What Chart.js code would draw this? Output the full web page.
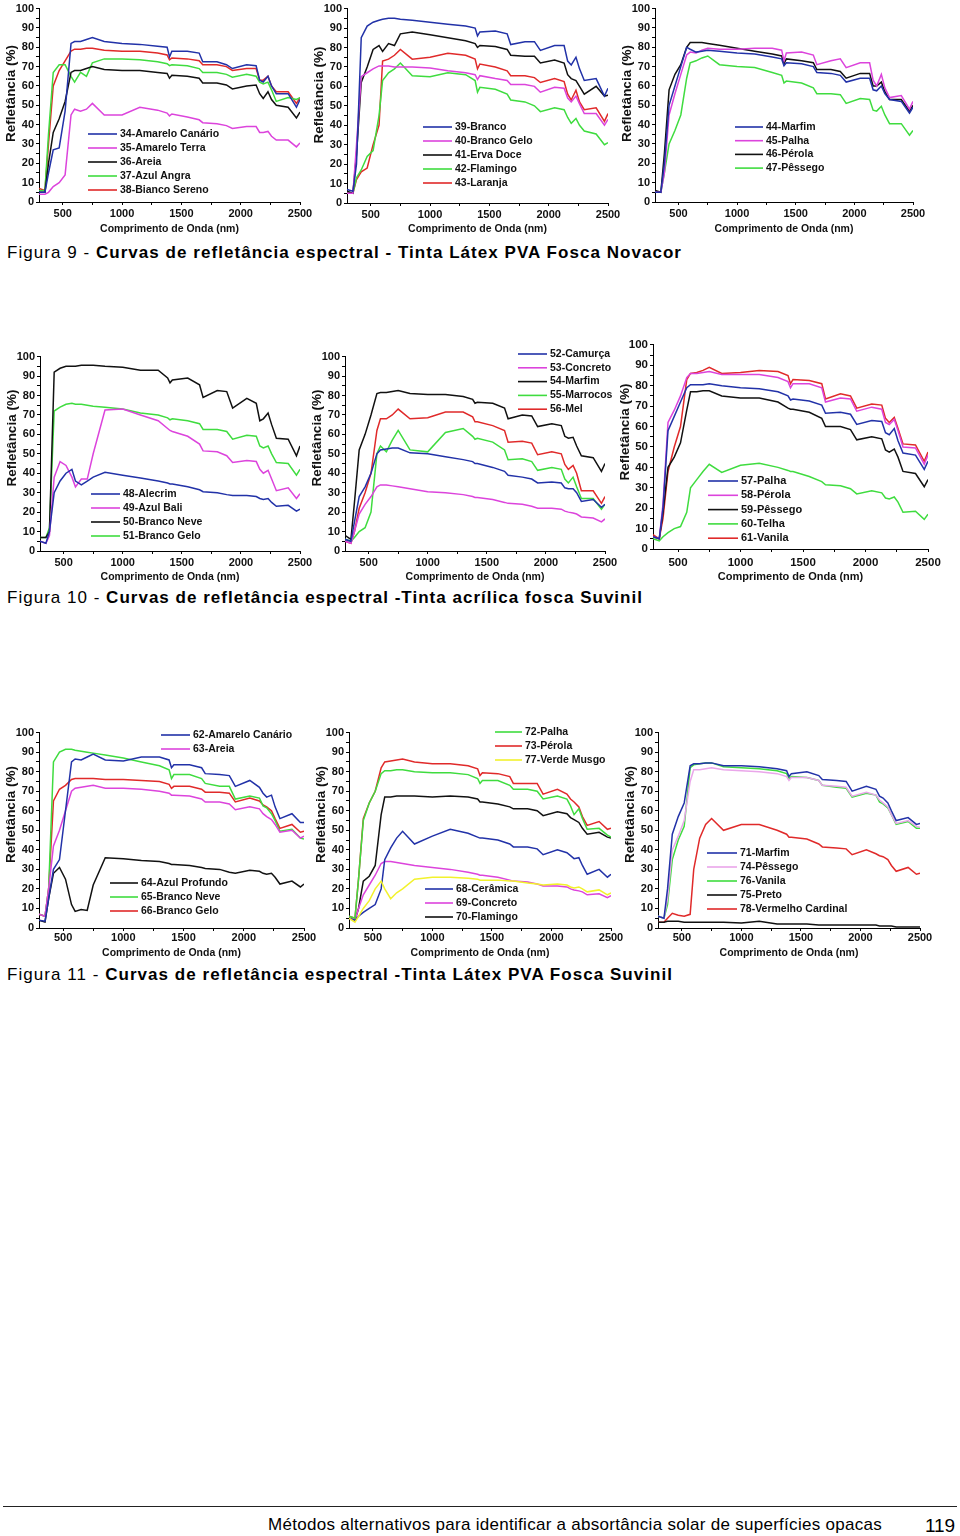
<!DOCTYPE html>
<html lang="pt">
<head>
<meta charset="UTF-8">
<title>Curvas de refletância espectral</title>
<script src="https://cdn.jsdelivr.net/npm/chart.js"></script>
<style>
  body { margin: 0; background: #fff; }
  #pagina {
    position: relative;
    width: 960px;
    height: 1536px;
    overflow: hidden;
    font-family: 'Liberation Sans', Arial, sans-serif;
    color: #000;
  }
  .legenda { position: absolute; left: 7px; font-size: 17px; line-height: 20px; white-space: nowrap; }
  .rodape { position: absolute; white-space: nowrap; line-height: 20px; }
  .linha { position: absolute; left: 3px; top: 1506px; width: 954px; height: 1px; background: #222; }
</style>
</head>
<body>
<div id="pagina">
  <div class="legenda" style="top:243px" data-w="675">Figura 9 - <b>Curvas de refletância espectral - Tinta Látex PVA Fosca Novacor</b></div>
  <div class="legenda" style="top:588px" data-w="636">Figura 10 - <b>Curvas de refletância espectral -Tinta acrílica fosca Suvinil</b></div>
  <div class="legenda" style="top:965px" data-w="666">Figura 11 - <b>Curvas de refletância espectral -Tinta Látex PVA Fosca Suvinil</b></div>
  <div class="linha"></div>
  <div class="rodape" style="left:268px;top:1515px;font-size:17px;font-family:'Liberation Sans Narrow','Liberation Sans',Arial,sans-serif" data-w="614">Métodos alternativos para identificar a absortância solar de superfícies opacas</div>
  <div class="rodape" style="left:925px;top:1516px;font-size:19px" data-w="30">119</div>
</div>

<script>
  // comprimentos de onda (nm) usados em todas as curvas
  const wavelengths = [300, 350, 380, 420, 470, 520, 570, 600, 650, 700, 750, 850, 1000, 1150, 1300, 1380, 1400, 1420, 1550, 1650,
                       1680, 1800, 1880, 1930, 2050, 2130, 2160, 2190, 2230, 2260, 2300, 2400, 2470, 2500];
  const xTickLabels = [500, 1000, 1500, 2000, 2500];
  const xTickMinor = [750, 1250, 1750, 2250];
  const yTickLabels = [0, 10, 20, 30, 40, 50, 60, 70, 80, 90, 100];

  // Figura 9 - Novacor
  const s34 = [5,5,15,27,28,47,82,83,83,84,85,83,82,81.5,80.5,80,75,78,78,77,72.5,72.5,71,69,71,70.5,63,62,65,60,56,56,49,53];
  const s35 = [4,4,5,8,10,14,45,48,47,48,51,45,45,49,47.5,46,44.5,45.5,44,42.5,41,40.5,39.5,38,39,39,36,36,36.5,34,32,32,28.5,30.5];
  const s36 = [5,5,20,36,43,52,67,68,68,69,70,68.5,68,68,67,66.5,64,65.5,65,64,61.5,61.5,60.5,58.5,60,60.5,56,53.5,57,53,50,49,43.5,46.5];
  const s37 = [6,6,35,67,71,71,65,62,67,65,72,74,74,73.5,72.5,71.5,70.5,71,70.5,69,67,67,66,64.5,66,65,62,61,62,58,52,54,53,54];
  const s38 = [7,6,30,60,68,73,78,79,79,79.5,79.5,78.5,78,78,77,76,73.5,74.5,74,73,71,71,70,68,69,69,63,63,65,60,57,57,51,54];
  const s39 = [7,6,20,85,91,93,94,94.5,95,95,94.5,94,93,92,91,90,86,88,88.5,87,81.5,83,83,78.5,81,81,73,71,75,69,63,64,55,59];
  const s40 = [5,5,30,65,67,69,70.5,70.5,70.5,70,70,70,69.5,68,67,66,63.5,65.5,64,63,61,61,60,57,59.5,59,54,52,55,51,46,46,40,43];
  const s41 = [6,5,25,62,70,79,81,78,82,81,87,88,86.5,85,83.5,82,80,81,80.5,79,76,75.5,75.5,72,73.5,72,66,64,63,60,56,60,55,55.5];
  const s42 = [5,5,13,17,24,27,45,63,67,69,72,65.5,65,67,66,63,57,59.5,58.5,56,53,52,50,47,49,48,44,41,43.5,40,37,35.5,30,31];
  const s43 = [5,5,12,16,18,30,40,73,74,76,79,74,75,77,76,74,69,71.5,70,68,65.5,65.5,64.5,62,64,62.5,56,53,58,52,48,49,42,46];
  const s44 = [5,5,20,50,60,70,80,79,77.5,78,78.5,78,77,76.5,75,74,70.5,72,71.5,70,67,66.5,65.5,62,64,64,58,57.5,60,56,53,52,46,49];
  const s45 = [5,5,15,45,56,66,76,77.5,77,78.5,79.5,79,79,79.5,79.5,78.5,73,77,77.5,76,71,73,74,69.5,72,72,63,60,66,59,54,55,48,52];
  const s46 = [6,5,25,58,66,71,80,82.5,82.5,82.5,82,81,79.5,78,76.5,75.5,71.5,74,73,72,68.5,68.5,67.5,64,66.5,66.5,60,60,62,57,53,53,47,50];
  const s47 = [5,5,15,30,37,45,64,72,73,74.5,75.5,71,70,69.5,67,65.5,61.5,62.5,61.5,59,56,56,55.5,51,53.5,53,47.5,47,49.5,45,40.5,40.5,34.5,37];

  // Figura 10 - Suvinil acrílica
  const s48 = [5,4,10,30,36,40,42,36,34,36,38,40.5,39,37.5,36,35,34.5,34.5,33,31.5,30.5,30,29,28.5,28.5,28,27,26.5,27,25,23,23.5,20.5,21.5];
  const s49 = [5,4,8,38,46,44,38,33,37,37,50,72.5,73,70,67,63,62,61.5,59,55,51.5,51,49,45.5,46.5,46,42,40,41.5,37,31,32.5,27,29.5];
  const s50 = [7,7,10,92,94,95,95,95,95.5,95.5,95.5,95,94.5,93,93,89,86.5,88,89,85.5,79,82.5,82,73.5,78.5,76,67,68,71,65,58,57.5,49,54];
  const s51 = [7,7,12,72,74,75.5,76,75.5,75.5,75,74.5,74,73,71,70,68.5,67.5,68,67,65.5,62.5,62.5,61.5,57.5,59.5,59,54,53,54,50,45.5,45,39,42];
  const s52 = [6,5,15,28,33,40,50,52,52.5,53,53,50.5,50,48.5,47,46,45,45,43,41,39,38,37,35,35.5,35,32.5,32,32,30,25.5,26.5,22.5,24];
  const s53 = [5,4,10,19,24,28,33,34,34,33.5,33,32,30.5,30,29,28,27.5,27.5,26.5,25,24.5,24,23,22,22,21.5,20.5,20,19.5,19,17.5,17,15,16.5];
  const s54 = [8,6,25,52,60,70,81,81.5,81.5,82,82.5,81,80.5,80.5,79.5,78,76,76.5,76,73.5,68,70,69.5,64,65.5,64.5,59,58,58.5,54,49,48,41,45];
  const s55 = [6,5,7,10,12,20,50,54,51,57,62,52,51,61,63,59,57.5,58,56,52,47,47.5,46,41.5,43,42,37,35,38,33,27,27,21.5,24];
  const s56 = [5,4,10,22,30,40,62,68,68,70,73,68,68.5,71.5,71.5,69,66.5,66.5,64.5,62,56,56.5,55.5,49.5,51,50,44.5,42,44,40,31,31,24.5,28];
  const s57 = [6,5,20,58,65,72,79,80.5,80.5,80.5,81,80,79,78.5,77,75,73,73.5,72.5,70.5,66.5,67,66,61,63,62.5,57,56,59,53,47,46,39,43];
  const s58 = [6,5,22,62,68,75,84,86,86,86.5,87,85.5,85.5,85.5,84,82,79,81,81,79,72,74,73.5,67.5,69.5,68.5,62,61,63.5,58,50,49.5,41.5,46];
  const s59 = [6,5,18,40,45,52,68,77,77,77.5,77.5,75,74,74,72,69,68.5,68.5,67,64,60,60,58.5,53.5,55,54,48.5,47.5,49,45,38,37,30.5,34];
  const s60 = [5,4,6,8,10,11,18,30,34,38,41.5,37.5,41,42,40,38.5,38,38,35.5,33,31.5,31,29.5,27,28.5,27.5,25,24.5,25.5,23,18,18.5,14.5,17];
  const s61 = [7,5,15,38,50,60,83,86,86.5,87.5,89,86,86.5,87.5,87,85,81,83,82.5,81,73.5,76,75,69,71,70.5,64,62,64.5,59,51.5,51,43,47.5];

  // Figura 11 - Suvinil látex
  const s62 = [4,3.5,15,30,35,60,85,86.5,86,87.5,89,86,85.5,87.5,87.5,86,82,83.5,83.5,82,79,78.5,78,72.5,75.5,72,69,67,68,62,56,58.5,54,54];
  const s63 = [7,6,20,42,50,60,70,71.5,72,72.5,73,71.5,71.5,71,70,69,68,68,67.5,66,64.5,64.5,63.5,60.5,62,61,58.5,57,55.5,53,49,50,46,47];
  const s64 = [4,3,15,28,31,25,12,8.5,9.5,9,22,36,35.5,34.5,34,33,32.5,32.5,32,31,30.5,30,28.5,28,29.5,29,28,27.5,28,26,22.5,24,21,22.5];
  const s65 = [7,6,20,85,90,91.5,91.5,91,90.5,90,89.5,88.5,87,85,83,81,76.5,78.5,78.5,76.5,74,72.5,72.5,66,67.5,66.5,62.5,61.5,58.5,55,49.5,50.5,46,45.5];
  const s66 = [7,6,20,65,71,73,76,76.5,76.5,76.5,76.5,76,76,75.5,75,73.5,71.5,72.5,72.5,71,69.5,69.5,69,64.5,66.5,65,63,62,60,56,51,53,49,49.5];
  const s72 = [6,5,25,55,64,70,79,80.5,80.5,81,81,80,79.5,79.5,78.5,76.5,74,75.5,75.5,73,71,71,70,66,67.5,66,62.5,58,61,56,50.5,51,47.5,46.5];
  const s73 = [6,5,25,56,64,70,82,85,85.5,86,86.5,85,84,84,83,81.5,78,79.5,79,77.5,74,74,74,68.5,71,68.5,66,64.5,62,57,52.5,54.5,50.5,51];
  const s77 = [5,3,6,10,14,20,24,20,15,18,20,25,26,26,25.5,25,24.5,24.5,24.5,24,24,23,22.5,22,22.5,22,21,20.5,21,20,18.5,19.5,17,18];
  const s68 = [5,4,6,8,10,12,20,35,41,46,49.5,43,47,50.5,48.5,46.5,46,46,45,43,41.5,41.5,40.5,37.5,40,38.5,37,35.5,36,32,27.5,30,26,27.5];
  const s69 = [5,4,10,17,22,27,33,34,34,33.5,33,32,31,30,28.5,27.5,27,27,26,24.5,24,23.5,22.5,21.5,21.5,21,20,19.5,19,18.5,17,17.5,15.5,16.5];
  const s70 = [5,4,10,24,26.5,32,58,67,67,67.5,67.5,67.5,67,67.5,67,66,64.5,64.5,63.5,62,61,61,60,57.5,59.5,58.5,56.5,55.5,54,51,48,49,46.5,46];
  const s71 = [6,5,20,48,57,64,83,84,84,84.5,84.5,83,83,82.5,81.5,80.5,77.5,79,80,78,76,75.5,75,70,72.5,71,67.5,66.5,64,60,55,56.5,53,53.5];
  const s74 = [6,5,15,40,47,55,75,81,81,81.5,82,81,80.5,80,79,77.5,75.5,77,77,75.5,73,72.5,72,67.5,69.5,68,65.5,64,62,58,53.5,55,52,51.5];
  const s76 = [6,5,12,35,45,52,82,83.5,84,84.5,84.5,82.5,82,81.5,80.5,79,76.5,77.5,77,75.5,73,72,71.5,67,69,68,64.5,63.5,61.5,58,53,54.5,51,51];
  const s75 = [3,3,3.5,3.5,3.5,3,3,3,3,3,3,3,2.5,3.5,2,2,2,2,2,1.5,1.5,1.5,1.5,1.5,1.5,1.5,1,1,1,1,0.5,0.5,0.5,0.5];
  const s78 = [3,3,5,7.5,6.5,6,7,30,46,53,56,50,53,53,50,48,46.5,46.5,45.5,43,41.5,41,40.5,37.5,40,38,37,36.5,35,32,29,31,27.5,28];

  const AZUL = '#2232a8', MAGENTA = '#dc44dc', PRETO = '#111111', VERDE = '#3fdc3f',
        VERMELHO = '#e02a2a', ROSA = '#eaa6ea', AMARELO = '#f2f22c';
  const FAMILIA = "'Liberation Sans', Arial, sans-serif";

  // legenda e título do eixo y desenhados dentro do canvas
  const legendaInterna = {
    id: 'legendaInterna',
    afterDatasetsDraw(chart, args, opts) {
      const ctx = chart.ctx;
      ctx.save();
      ctx.font = 'bold ' + opts.size + 'px ' + FAMILIA;
      ctx.textBaseline = 'middle';
      opts.grupos.forEach(g => {
        g.items.forEach((i, k) => {
          const ds = chart.data.datasets[i];
          const y = g.y + k * g.dy - opts.oy;
          const x = g.x - opts.ox;
          ctx.strokeStyle = ds.borderColor;
          ctx.lineWidth = 1.6;
          ctx.beginPath();
          ctx.moveTo(x, y);
          ctx.lineTo(x + g.len, y);
          ctx.stroke();
          ctx.fillStyle = '#111';
          ctx.fillText(ds.label, x + g.len + 3, y);
        });
      });
      // título vertical
      ctx.translate(opts.tx, opts.ty);
      ctx.rotate(-Math.PI / 2);
      ctx.textAlign = 'center';
      ctx.font = 'bold 13.5px ' + FAMILIA;
      ctx.fillStyle = '#111';
      ctx.fillText('Refletância (%)', 0, 0);
      ctx.restore();
    }
  };
  Chart.register(legendaInterna);

  const graficos = [
    { area: [39, 7, 300, 202], tickY: 11, titleY: 27, dY: -11,
      series: [['34-Amarelo Canário', s34, AZUL], ['35-Amarelo Terra', s35, MAGENTA], ['36-Areia', s36, PRETO], ['37-Azul Angra', s37, VERDE], ['38-Bianco Sereno', s38, VERMELHO]],
      legenda: [{ x: 88, y: 134, dy: 14, len: 29, items: [0, 1, 2, 3, 4] }] },
    { area: [347, 7, 608, 203], tickY: 11, titleY: 26, dY: -10,
      series: [['39-Branco', s39, AZUL], ['40-Branco Gelo', s40, MAGENTA], ['41-Erva Doce', s41, PRETO], ['42-Flamingo', s42, VERDE], ['43-Laranja', s43, VERMELHO]],
      legenda: [{ x: 423, y: 127, dy: 14, len: 29, items: [0, 1, 2, 3, 4] }] },
    { area: [655, 7, 913, 202], tickY: 11, titleY: 27, dY: -11,
      series: [['44-Marfim', s44, AZUL], ['45-Palha', s45, MAGENTA], ['46-Pérola', s46, PRETO], ['47-Pêssego', s47, VERDE]],
      legenda: [{ x: 735, y: 127, dy: 13.7, len: 28, items: [0, 1, 2, 3] }] },
    { area: [40, 355, 300, 551], tickY: 11, titleY: 26, dY: -15,
      series: [['48-Alecrim', s48, AZUL], ['49-Azul Bali', s49, MAGENTA], ['50-Branco Neve', s50, PRETO], ['51-Branco Gelo', s51, VERDE]],
      legenda: [{ x: 91, y: 494, dy: 14, len: 29, items: [0, 1, 2, 3] }] },
    { area: [345, 355, 605, 551], tickY: 11, titleY: 26, dY: -15,
      series: [['52-Camurça', s52, AZUL], ['53-Concreto', s53, MAGENTA], ['54-Marfim', s54, PRETO], ['55-Marrocos', s55, VERDE], ['56-Mel', s56, VERMELHO]],
      legenda: [{ x: 518, y: 354, dy: 13.8, len: 29, items: [0, 1, 2, 3, 4] }] },
    { area: [653, 343, 928, 549], tickY: 13, titleY: 28, dY: -14, fonte: 11.5,
      series: [['57-Palha', s57, AZUL], ['58-Pérola', s58, MAGENTA], ['59-Pêssego', s59, PRETO], ['60-Telha', s60, VERDE], ['61-Vanila', s61, VERMELHO]],
      legenda: [{ x: 708, y: 481, dy: 14.3, len: 30, items: [0, 1, 2, 3, 4] }] },
    { area: [39, 731, 304, 928], tickY: 9, titleY: 25, dY: -15,
      series: [['62-Amarelo Canário', s62, AZUL], ['63-Areia', s63, MAGENTA], ['64-Azul Profundo', s64, PRETO], ['65-Branco Neve', s65, VERDE], ['66-Branco Gelo', s66, VERMELHO]],
      legenda: [{ x: 161, y: 735, dy: 14, len: 29, items: [0, 1] }, { x: 110, y: 883, dy: 14, len: 28, items: [2, 3, 4] }] },
    { area: [349, 731, 611, 928], tickY: 9, titleY: 25, dY: -15,
      series: [['72-Palha', s72, VERDE], ['73-Pérola', s73, VERMELHO], ['77-Verde Musgo', s77, AMARELO], ['68-Cerâmica', s68, AZUL], ['69-Concreto', s69, MAGENTA], ['70-Flamingo', s70, PRETO]],
      legenda: [{ x: 495, y: 732, dy: 14, len: 27, items: [0, 1, 2] }, { x: 425, y: 889, dy: 14, len: 28, items: [3, 4, 5] }] },
    { area: [658, 731, 920, 928], tickY: 9, titleY: 25, dY: -15,
      series: [['71-Marfim', s71, AZUL], ['74-Pêssego', s74, ROSA], ['76-Vanila', s76, VERDE], ['75-Preto', s75, PRETO], ['78-Vermelho Cardinal', s78, VERMELHO]],
      legenda: [{ x: 707, y: 853, dy: 14, len: 30, items: [0, 1, 2, 3, 4] }] }
  ];

  const pagina = document.getElementById('pagina');

  graficos.forEach(g => {
    const [l, t, r, b] = g.area;
    const bx = Math.max(0, l - 40), by = t - 7;
    const bw = r + 30 - bx, bh = b + 40 - by;
    const fonte = g.fonte || 11;

    const caixa = document.createElement('div');
    caixa.style.cssText = `position:absolute;left:${bx}px;top:${by}px;width:${bw}px;height:${bh}px`;
    const cv = document.createElement('canvas');
    cv.width = bw;
    cv.height = bh;
    caixa.appendChild(cv);
    pagina.appendChild(caixa);

    new Chart(cv, {
      type: 'line',
      data: {
        datasets: g.series.map(([label, vals, cor]) => ({
          label,
          data: wavelengths.map((x, i) => ({ x, y: vals[i] })),
          borderColor: cor,
          borderWidth: 1.5,
          pointRadius: 0,
          tension: 0,
          fill: false
        }))
      },
      options: {
        responsive: false,
        animation: false,
        devicePixelRatio: 1,
        layout: { padding: { left: 0, top: t - by, right: bx + bw - r, bottom: 0 } },
        plugins: {
          legend: { display: false },
          tooltip: { enabled: false },
          legendaInterna: {
            ox: bx, oy: by, grupos: g.legenda, size: fonte - 0.5,
            tx: l - 28 - bx, ty: (t + b) / 2 + g.dY - by
          }
        },
        scales: {
          x: {
            type: 'linear',
            min: 300,
            max: 2500,
            afterBuildTicks: s => { s.ticks = xTickLabels.concat(xTickMinor).sort((a, c) => a - c).map(v => ({ value: v })); },
            afterFit: s => { s.height = bh - (b - by); },
            ticks: {
              autoSkip: false, maxRotation: 0, padding: g.tickY - 9,
              color: '#111', font: { family: FAMILIA, size: fonte, weight: 'bold' },
              callback: v => xTickLabels.includes(v) ? String(v) : ''
            },
            grid: { drawOnChartArea: false, tickLength: 3, color: '#000' },
            border: { color: '#000', width: 1 },
            title: {
              display: true, text: 'Comprimento de Onda (nm)', color: '#111',
              font: { family: FAMILIA, size: fonte - 0.5, weight: 'bold' },
              padding: { top: 0, bottom: 40 - g.titleY - (fonte - 0.5) * 0.6 }
            }
          },
          y: {
            min: 0,
            max: 100,
            afterFit: s => { s.width = l - bx; },
            ticks: {
              stepSize: 5, autoSkip: false, padding: 2,
              color: '#111', font: { family: FAMILIA, size: fonte, weight: 'bold' },
              callback: v => yTickLabels.includes(v) ? String(v) : ''
            },
            grid: { drawOnChartArea: false, tickLength: 3, color: '#000' },
            border: { color: '#000', width: 1 },
            title: { display: false }
          }
        }
      }
    });
  });

  // ajusta o espaçamento das letras para a largura das linhas de texto
  document.querySelectorAll('[data-w]').forEach(el => {
    el.style.letterSpacing = '0px';
    const w = el.getBoundingClientRect().width;
    const n = el.textContent.length;
    el.style.letterSpacing = ((+el.dataset.w - w) / n) + 'px';
  });
</script>
</body>
</html>
